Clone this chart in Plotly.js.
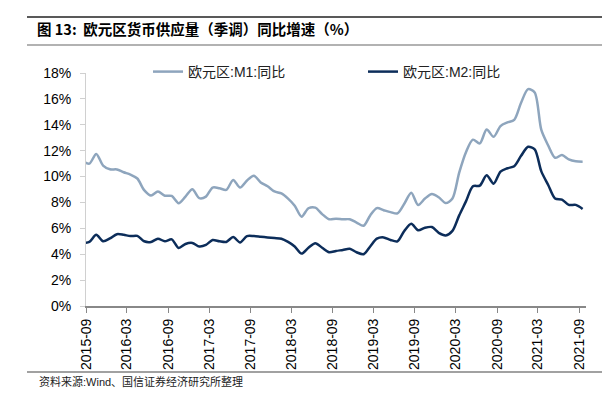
<!DOCTYPE html>
<html>
<head>
<meta charset="utf-8">
<script src="https://cdn.plot.ly/plotly-3.0.1.min.js"></script>
<style>html,body{margin:0;padding:0;background:#fff;}#chart{width:616px;height:402px;}</style>
</head>
<body>
<div id="chart"></div>
<script>
// ---- data ----
const months = [
 '2015-08','2015-09','2015-10','2015-11','2015-12',
 '2016-01','2016-02','2016-03','2016-04','2016-05','2016-06','2016-07','2016-08','2016-09','2016-10','2016-11','2016-12',
 '2017-01','2017-02','2017-03','2017-04','2017-05','2017-06','2017-07','2017-08','2017-09','2017-10','2017-11','2017-12',
 '2018-01','2018-02','2018-03','2018-04','2018-05','2018-06','2018-07','2018-08','2018-09','2018-10','2018-11','2018-12',
 '2019-01','2019-02','2019-03','2019-04','2019-05','2019-06','2019-07','2019-08','2019-09','2019-10','2019-11','2019-12',
 '2020-01','2020-02','2020-03','2020-04','2020-05','2020-06','2020-07','2020-08','2020-09','2020-10','2020-11','2020-12',
 '2021-01','2021-02','2021-03','2021-04','2021-05','2021-06','2021-07','2021-08','2021-09'
];
const m1Growth = [
 11.2,11.0,11.75,10.85,10.56,
 10.55,10.33,10.15,9.85,8.95,8.53,8.84,8.52,8.5,7.94,8.45,9.02,
 8.33,8.45,9.15,9.1,8.97,9.74,9.15,9.7,10.07,9.55,9.25,8.85,
 8.7,8.3,7.75,6.9,7.55,7.6,7.1,6.7,6.75,6.7,6.7,6.45,
 6.2,7.0,7.56,7.4,7.25,7.15,7.9,8.75,7.8,8.3,8.65,8.4,
 7.95,8.3,10.3,11.9,12.85,12.56,13.64,13.07,13.9,14.18,14.38,15.7,
 16.75,16.5,13.6,12.4,11.45,11.66,11.33,11.18,11.15
];
const m2Growth = [
 4.85,4.95,5.5,5.0,5.22,
 5.55,5.5,5.4,5.42,5.0,4.95,5.2,5.0,5.15,4.48,4.79,4.87,
 4.6,4.72,5.1,5.0,4.95,5.33,4.91,5.4,5.4,5.35,5.3,5.25,
 5.2,4.95,4.6,4.05,4.5,4.85,4.5,4.15,4.25,4.33,4.42,4.15,
 4.0,4.6,5.2,5.3,5.1,5.0,5.8,6.35,5.85,6.05,6.1,5.65,
 5.45,5.8,7.0,8.1,9.25,9.3,10.1,9.45,10.38,10.64,10.8,11.6,
 12.3,12.1,10.4,9.35,8.3,8.22,7.81,7.81,7.5
];
const seriesNames = ['欧元区:M1:同比', '欧元区:M2:同比'];
const xTickVals = ['2015-09-01','2016-03-01','2016-09-01','2017-03-01','2017-09-01','2018-03-01','2018-09-01',
                   '2019-03-01','2019-09-01','2020-03-01','2020-09-01','2021-03-01','2021-09-01'];
const xTickLabels = ['2015-09','2016-03','2016-09','2017-03','2017-09','2018-03','2018-09',
                     '2019-03','2019-09','2020-03','2020-09','2021-03','2021-09'];
const yTickVals = [0,2,4,6,8,10,12,14,16,18];
const yTickLabels = ['0%','2%','4%','6%','8%','10%','12%','14%','16%','18%'];
const titleText = '图 13:  欧元区货币供应量（季调）同比增速（%）';
const sourceText = '资料来源:Wind、国信证券经济研究所整理';

// ---- layout helpers ----
const W = 616, H = 402;
const M = {l: 86, r: 30, t: 73, b: 96};
const px = x => (x - M.l) / (W - M.l - M.r);
const py = y => (H - M.b - y) / (H - M.t - M.b);
const FONT = 'Liberation Sans, Arial, Noto Sans CJK SC, sans-serif';

const traces = [
  {x: months, y: m1Growth, name: seriesNames[0], type: 'scatter', mode: 'lines',
   xperiod: 'M1', xperiodalignment: 'middle', showlegend: true,
   line: {color: '#8ea5bd', width: 2.5, shape: 'spline', smoothing: 0.8}, legend: 'legend'},
  {x: months, y: m2Growth, name: seriesNames[1], type: 'scatter', mode: 'lines',
   xperiod: 'M1', xperiodalignment: 'middle', showlegend: true,
   line: {color: '#0c2d5a', width: 2.5, shape: 'spline', smoothing: 0.8}, legend: 'legend2'}
];

const layout = {
  width: W, height: H,
  margin: M,
  showlegend: true,
  paper_bgcolor: '#fff', plot_bgcolor: '#fff',
  font: {family: FONT, size: 14, color: '#000'},
  title: {text: titleText, x: 37 / W, xanchor: 'left', xref: 'container',
          y: 1 - 30 / H, yanchor: 'middle', yref: 'container',
          font: {family: 'Noto Sans CJK SC, Liberation Sans, sans-serif', size: 14.5, weight: 'bold', color: '#000'}},
  xaxis: {type: 'date', range: ['2015-09-01', '2021-10-01'],
          tickmode: 'array', tickvals: xTickVals, ticktext: xTickLabels, tickangle: -90,
          ticks: 'outside', ticklen: 5, tickcolor: '#888', tickwidth: 1,
          showline: true, linecolor: '#888', linewidth: 2,
          showgrid: false, zeroline: false,
          tickfont: {family: FONT, size: 14, color: '#000'}},
  yaxis: {range: [0, 18], tickmode: 'array', tickvals: yTickVals, ticktext: yTickLabels,
          ticks: 'outside', ticklen: 5, tickcolor: '#d0d0d0', tickwidth: 1,
          showline: true, linecolor: '#d0d0d0', linewidth: 1,
          showgrid: false, zeroline: false, ticklabelstandoff: 6,
          tickfont: {family: FONT, size: 14, color: '#000'}},
  legend: {visible: true, x: px(148), y: py(72), xanchor: 'left', yanchor: 'middle', orientation: 'h',
           bgcolor: 'rgba(0,0,0,0)', font: {family: FONT, size: 14, color: '#222'}},
  legend2: {visible: true, x: px(363), y: py(72), xanchor: 'left', yanchor: 'middle', orientation: 'h',
           bgcolor: 'rgba(0,0,0,0)', font: {family: FONT, size: 14, color: '#222'}},
  shapes: [
    {type: 'line', xref: 'paper', yref: 'paper', x0: px(27), x1: px(602), y0: py(17), y1: py(17),
     line: {color: '#222', width: 1.5}},
    {type: 'line', xref: 'paper', yref: 'paper', x0: px(27), x1: px(602), y0: py(45), y1: py(45),
     line: {color: '#999', width: 1.5}},
    {type: 'line', xref: 'paper', yref: 'paper', x0: px(27), x1: px(602), y0: py(372), y1: py(372),
     line: {color: '#444', width: 1.2}}
  ],
  annotations: [
    {text: sourceText, xref: 'paper', yref: 'paper', x: px(37), y: py(381), xanchor: 'left', yanchor: 'middle',
     showarrow: false, font: {family: FONT, size: 11, color: '#222'}}
  ]
};

Plotly.newPlot('chart', traces, layout, {displayModeBar: false, staticPlot: true});
</script>
</body>
</html>
